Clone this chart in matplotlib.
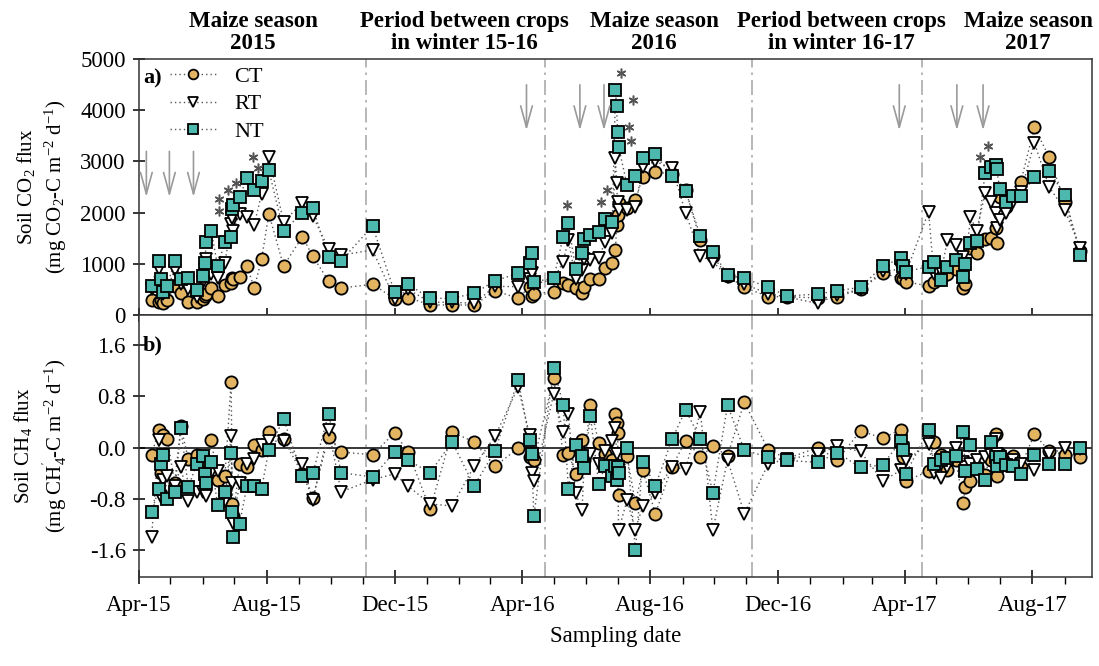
import numpy as np
import pandas as pd
import matplotlib
matplotlib.use("Agg")
import matplotlib.pyplot as plt
import matplotlib.dates as mdates
from matplotlib.lines import Line2D
from matplotlib.ticker import FormatStrFormatter

plt.rcParams["font.family"] = ["Liberation Serif", "DejaVu Serif"]
plt.rcParams["mathtext.fontset"] = "custom"
plt.rcParams["mathtext.rm"] = "Liberation Serif"
plt.rcParams["mathtext.it"] = "Liberation Serif:italic"
plt.rcParams["mathtext.bf"] = "Liberation Serif:bold"
plt.rcParams["axes.unicode_minus"] = False

# sampling dates (shared by the three tillage treatments)
dates = [
    "2015-04-13", "2015-04-20", "2015-04-22", "2015-04-24", "2015-04-28", "2015-05-05",
    "2015-05-11", "2015-05-18", "2015-05-26", "2015-06-01", "2015-06-03", "2015-06-04",
    "2015-06-09", "2015-06-15", "2015-06-22", "2015-06-28", "2015-06-29", "2015-06-30",
    "2015-07-06", "2015-07-13", "2015-07-20", "2015-07-27", "2015-08-03", "2015-08-17",
    "2015-09-04", "2015-09-14", "2015-09-29", "2015-10-11", "2015-11-10", "2015-12-01",
    "2015-12-14", "2016-01-04", "2016-01-25", "2016-02-15", "2016-03-06", "2016-03-28",
    "2016-04-08", "2016-04-10", "2016-04-12", "2016-05-01", "2016-05-10", "2016-05-15",
    "2016-05-22", "2016-05-28", "2016-05-30", "2016-06-05", "2016-06-13", "2016-06-19",
    "2016-06-26", "2016-06-29", "2016-06-30", "2016-07-01", "2016-07-02", "2016-07-10",
    "2016-07-18", "2016-07-25", "2016-08-06", "2016-08-22", "2016-09-04", "2016-09-18",
    "2016-09-30", "2016-10-14", "2016-10-30", "2016-11-22", "2016-12-10", "2017-01-08",
    "2017-01-27", "2017-02-18", "2017-03-11", "2017-03-29", "2017-03-31", "2017-04-02",
    "2017-04-24", "2017-04-29", "2017-05-06", "2017-05-12", "2017-05-20", "2017-05-27",
    "2017-05-29", "2017-06-03", "2017-06-09", "2017-06-17", "2017-06-23", "2017-06-27",
    "2017-06-28", "2017-07-01", "2017-07-07", "2017-07-14", "2017-07-21", "2017-08-03",
    "2017-08-17", "2017-09-01", "2017-09-16",
]

# soil CO2 flux (mg CO2-C m-2 d-1)
co2_ct = [
    293, 254, 300, 230, 293, 560, 423, 254, 254, 313, 380, 420,
    527, 381, 586, 625, 716, 700, 743, 957, 527, 1087, 1978, 957,
    1530, 1145, 664, 527, 600, 320, 340, 196, 196, 196, 475, 326,
    553, 371, 420, 456, 631, 586, 521, 436, 553, 697, 697, 911,
    1009, 1269, 1757, 1952, 2180, 2083, 2245, 2701, 2799, 2750, 2441, 1464,
    1150, 760, 541, 358, 360, 330, 358, 500, 813, 716, 700, 650,
    566, 650, 700, 800, 900, 521, 600, 1300, 1204, 1477, 1497, 1692,
    1399, 2311, 2100, 2324, 2597, 3665, 3092, 2213, 1250,
]
co2_rt = [
    500, 889, 600, 420, 520, 879, 600, 500, 351, 650, 900, 1100,
    800, 723, 1014, 1783, 1900, 1650, 1979, 1920, 1760, 2362, 3092, 1822,
    2190, 1930, 1295, 1170, 1270, 320, 500, 250, 250, 228, 560, 553,
    700, 813, 600, 700, 1041, 1464, 700, 879, 1100, 1074, 1107, 1432,
    1608, 3059, 2584, 2200, 2050, 2050, 2115, 2900, 3000, 2864, 2000, 1152,
    1041, 750, 600, 420, 350, 228, 400, 500, 850, 900, 850, 800,
    2018, 800, 850, 1464, 1367, 1139, 1000, 1907, 1646, 2389, 2200, 1985,
    1700, 1855, 2000, 2200, 2400, 3365, 2506, 2050, 1302,
]
co2_nt = [
    566, 1061, 694, 449, 566, 1061, 694, 723, 488, 762, 1014, 1425,
    1640, 957, 1425, 1523, 2080, 2148, 2310, 2670, 2440, 2610, 2823, 1640,
    2000, 2090, 1126, 1061, 1737, 449, 600, 326, 326, 423, 670, 813,
    1009, 1217, 651, 716, 1530, 1790, 892, 1217, 1477, 1562, 1627, 1874,
    1822, 4394, 4081, 3580, 3287, 2539, 2714, 3059, 3137, 2714, 2428, 1542,
    1237, 781, 716, 541, 371, 410, 475, 541, 957, 1107, 950, 846,
    944, 1041, 684, 944, 1074, 749, 996, 1412, 1451, 2779, 2883, 2929,
    2844, 2454, 2213, 2324, 2324, 2701, 2818, 2344, 1172,
]

# soil CH4 flux (mg CH4-C m-2 d-1)
ch4_ct = [
    -0.11, 0.28, -0.39, 0.20, 0.14, -0.55, 0.34, -0.18, -0.11, -0.15, -0.30, -0.45,
    0.12, -0.50, -0.45, 1.03, -0.88, -1.07, -0.25, -0.30, 0.04, -0.04, 0.24, 0.13,
    -0.41, -0.79, 0.17, -0.07, -0.11, 0.23, -0.07, -0.96, 0.24, 0.09, -0.29, -0.01,
    -0.14, -0.10, -0.20, 1.09, -0.11, -0.08, -0.41, 0.12, -0.20, 0.66, 0.07, -0.10,
    -0.20, 0.52, 0.38, 0.23, -0.74, -0.13, -0.86, -0.35, -1.03, -0.30, 0.11, -0.14,
    0.02, -0.13, 0.71, -0.04, -0.17, 0.00, -0.19, 0.26, 0.15, 0.28, -0.14, -0.52,
    -0.37, 0.09, -0.11, -0.35, -0.20, -0.86, -0.62, -0.52, -0.30, -0.43, -0.20, 0.22,
    -0.44, -0.10, -0.20, -0.13, -0.30, 0.21, -0.05, -0.11, -0.14,
]
ch4_rt = [
    -1.39, 0.12, -0.77, -0.50, -0.45, -0.60, -0.30, -0.84, -0.70, -0.70, -0.50, -0.75,
    -0.40, -0.37, -0.84, 0.18, -0.56, -1.17, -0.55, -0.25, -0.17, 0.04, 0.10, 0.10,
    -0.25, -0.82, 0.28, -0.69, -0.50, -0.41, -0.60, -0.88, -0.91, -0.29, 0.18, 0.94,
    0.20, -0.39, -0.52, 0.84, 0.25, 0.53, -0.71, -0.98, -0.30, -0.10, -0.25, -0.06,
    0.10, 0.30, -0.10, -0.30, -1.29, -0.82, -1.29, -0.91, -0.71, -0.30, -0.34, 0.56,
    -1.29, -0.19, -1.03, -0.25, -0.18, -0.10, 0.02, -0.06, -0.52, -0.35, 0.00, -0.20,
    0.05, -0.39, -0.48, -0.30, 0.00, -0.23, -0.30, -0.25, -0.20, -0.15, -0.12, 0.13,
    -0.10, -0.20, -0.29, -0.20, -0.25, -0.35, -0.10, -0.01, -0.02,
]
ch4_nt = [
    -1.00, -0.64, -0.26, -0.11, -0.80, -0.69, 0.30, -0.62, -0.26, -0.13, -0.41, -0.55,
    -0.22, -0.89, -0.69, -0.09, -1.00, -1.39, -1.19, -0.60, -0.60, -0.64, -0.03, 0.45,
    -0.44, -0.40, 0.53, -0.39, -0.46, -0.07, -0.20, -0.39, 0.09, -0.60, -0.05, 1.06,
    0.12, -0.10, -1.07, 1.25, 0.67, -0.64, 0.04, -0.13, -0.32, 0.50, -0.57, -0.29,
    -0.45, -0.28, -0.50, -0.30, -0.40, -0.01, -1.60, -0.22, -0.60, 0.13, 0.59, 0.13,
    -0.71, 0.66, -0.04, -0.15, -0.20, -0.23, -0.08, -0.31, -0.27, 0.11, -0.04, -0.41,
    0.27, -0.25, -0.19, -0.16, -0.13, 0.25, -0.36, 0.04, -0.34, -0.50, 0.08, -0.15,
    -0.29, -0.15, -0.27, -0.29, -0.41, -0.11, -0.25, -0.25, 0.00,
]

# management events (arrows) and significant differences (asterisks), top panel
arrow_dates = ["2015-04-08", "2015-04-30", "2015-05-23", "2016-04-05", "2016-05-26",
               "2016-06-18", "2017-03-27", "2017-05-21", "2017-06-15"]
arrow_top = [3250, 3250, 3250, 4550, 4550, 4550, 4550, 4550, 4550]
arrow_tip = [2250, 2250, 2250, 3550, 3550, 3550, 3550, 3550, 3550]

star_dates = ["2015-06-16", "2015-06-16", "2015-06-25", "2015-07-03", "2015-07-19",
              "2015-07-24", "2016-05-14", "2016-06-15", "2016-06-21", "2016-07-04",
              "2016-07-16", "2016-07-12", "2016-07-14", "2017-06-12", "2017-06-20"]
star_vals = [2037, 2260, 2441, 2584, 3092, 2865, 2148, 2201, 2441, 4732,
             4199, 3666, 3405, 3080, 3300]

# limits between crop periods
period_limits = ["2015-11-04", "2016-04-23", "2016-11-06", "2017-04-18"]

treatments = ["CT", "RT", "NT"]
markers = {"CT": "o", "RT": "v", "NT": "s"}
fills = {"CT": "#E3B461", "RT": "white", "NT": "#4DB8AE"}

t = pd.to_datetime(dates)

fig = plt.figure(figsize=(10.99, 6.66), dpi=100)
gs = fig.add_gridspec(2, 1, height_ratios=[256, 262], hspace=0,
                      left=0.1265, right=0.9936, top=0.9114, bottom=0.1336)
ax1 = fig.add_subplot(gs[0])
ax2 = fig.add_subplot(gs[1], sharex=ax1)

series_top = {"CT": co2_ct, "RT": co2_rt, "NT": co2_nt}
series_bot = {"CT": ch4_ct, "RT": ch4_rt, "NT": ch4_nt}

for ax, series in [(ax1, series_top), (ax2, series_bot)]:
    for lim in period_limits:
        ax.axvline(pd.Timestamp(lim), color="#aaaaaa", lw=1.2,
                   linestyle=(0, (9, 3, 1.5, 3)), zorder=1)
    for k in treatments:
        ax.plot(t, series[k], linestyle=(0, (1, 2.2)), color="#555555", lw=1.0, zorder=2)
    for k in treatments:
        ax.plot(t, series[k], linestyle="none", marker=markers[k], markersize=8.8,
                markerfacecolor=fills[k], markeredgecolor="black", markeredgewidth=1.3,
                zorder=3)

for d, y0, y1 in zip(arrow_dates, arrow_top, arrow_tip):
    ax1.annotate("", xy=(pd.Timestamp(d), y1), xytext=(pd.Timestamp(d), y0),
                 arrowprops=dict(arrowstyle="->,head_length=1.1,head_width=0.3",
                                 color="#9a9a9a", lw=1.2, mutation_scale=14))

ax1.plot(pd.to_datetime(star_dates), star_vals, linestyle="none", marker=(6, 2, 0),
         markersize=7, markeredgewidth=1.1, color="#555555", zorder=4)

ax2.axhline(0, color="black", lw=1.1, zorder=1.5)

ax1.set_ylim(0, 5000)
ax1.set_yticks(np.arange(0, 5001, 1000))
ax2.set_ylim(-2.02, 2.07)
ax2.set_yticks([-1.6, -0.8, 0.0, 0.8, 1.6])
ax2.yaxis.set_major_formatter(FormatStrFormatter("%.1f"))

ax1.set_xlim(pd.Timestamp("2015-04-01"), pd.Timestamp("2017-09-27"))
ax2.xaxis.set_major_locator(mdates.MonthLocator(bymonth=[4, 8, 12]))
ax2.xaxis.set_major_formatter(mdates.DateFormatter("%b-%y"))
ax2.xaxis.set_minor_locator(mdates.MonthLocator())

for ax in (ax1, ax2):
    for sp in ax.spines.values():
        sp.set_linewidth(1.1)
        sp.set_color("#333333")
    ax.tick_params(axis="x", which="major", direction="inout", length=10, width=1.1,
                   labelsize=16.5, pad=8)
    ax.tick_params(axis="x", which="minor", direction="out", length=5, width=1.0)
    ax.tick_params(axis="y", which="major", direction="inout", length=9, width=1.1,
                   labelsize=16.5, pad=5)
ax1.tick_params(axis="x", which="both", labelbottom=False)

ax1.set_ylabel("Soil CO$_2$ flux\n(mg CO$_2$-C m$^{-2}$ d$^{-1}$)", fontsize=15,
               linespacing=1.35)
ax2.set_ylabel("Soil CH$_4$ flux\n(mg CH$_4^{'}$-C m$^{-2}$ d$^{-1}$)", fontsize=15,
               linespacing=1.35)
ax1.yaxis.set_label_coords(-0.073, 0.5)
ax2.yaxis.set_label_coords(-0.073, 0.5)
ax2.set_xlabel("Sampling date", fontsize=16.5, labelpad=7)

ax1.text(0.004, 0.925, "a)", transform=ax1.transAxes, fontsize=16, fontweight="bold",
         va="center", ha="left")
ax2.text(0.004, 0.885, "b)", transform=ax2.transAxes, fontsize=16, fontweight="bold",
         va="center", ha="left")

handles = [Line2D([0], [0], linestyle=(0, (1, 2.2)), color="#555555", lw=1.0,
                  marker=markers[k], markersize=7, markerfacecolor=fills[k],
                  markeredgecolor="black", markeredgewidth=1.3) for k in treatments]
ax1.legend(handles, treatments, loc="upper left", bbox_to_anchor=(0.032, 0.97),
           frameon=False, fontsize=16, handlelength=2.1, handletextpad=0.8,
           labelspacing=0.3, borderpad=0, borderaxespad=0)

headers = [("2015-07-19", "Maize season\n2015"),
           ("2016-02-06", "Period between crops\nin winter 15-16"),
           ("2016-08-05", "Maize season\n2016"),
           ("2017-01-31", "Period between crops\nin winter 16-17"),
           ("2017-07-28", "Maize season\n2017")]
for d, label in headers:
    ax1.text(pd.Timestamp(d), 1.02, label, transform=ax1.get_xaxis_transform(),
             ha="center", va="bottom", fontsize=16.5, fontweight="bold", linespacing=1.05)

fig.savefig("out.png", dpi=100)
